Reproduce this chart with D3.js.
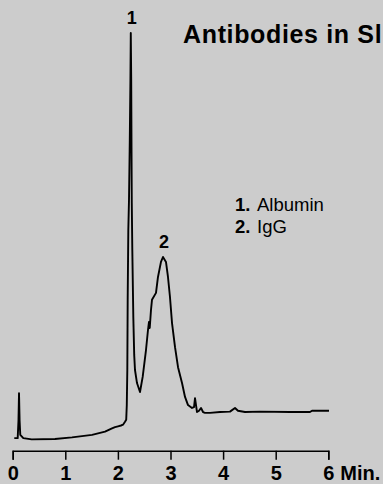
<!DOCTYPE html>
<html lang="en">
<head>
    <meta charset="UTF-8">
    <title>Antibodies chromatogram</title>
    <script src="https://d3js.org/d3.v7.min.js"></script>
    <style>
        body {
            margin: 0;
            background: #cccccc;
            font-family: Arial, "Liberation Sans", sans-serif;
        }
        svg {
            display: block;
            background: #cccccc;
        }
        .trace {
            fill: none;
            stroke: #000;
            stroke-width: 1.9;
            stroke-linejoin: round;
        }
        .axis path, .axis line {
            stroke: #000;
            stroke-width: 1.5;
        }
        .axis text {
            font-size: 20px;
            font-weight: bold;
            fill: #000;
        }
    </style>
</head>
<body>
    <svg id="chart" width="383" height="484"></svg>
    <script>
        // Retention time (min) and detector signal (% of peak 1 height)
        const times = [
            0.030, 0.095, 0.110, 0.120, 0.131, 0.144, 0.202, 0.361, 0.804, 1.127,
            1.508, 1.755, 1.888, 1.945, 2.002, 2.059, 2.097, 2.135, 2.158,
            2.169, 2.179, 2.186, 2.198, 2.211, 2.226, 2.238, 2.245, 2.253, 2.259,
            2.264, 2.274, 2.293, 2.310, 2.325, 2.363, 2.420,
            2.471, 2.534, 2.572, 2.591, 2.605, 2.629, 2.648, 2.724, 2.762, 2.819,
            2.857, 2.914, 2.952, 2.990, 3.029, 3.086, 3.143, 3.219, 3.276, 3.333,
            3.409, 3.447, 3.466, 3.485, 3.504, 3.542, 3.580, 3.618, 3.656, 3.751,
            3.941, 4.131, 4.226, 4.283, 4.416, 4.701, 5.272, 5.652, 5.690, 6.013
        ];
        const signal = [
            0.7, 0.7, 5.1, 11.7, 5.1, 1.5, 0.7, 0.4, 0.5, 0.9,
            1.5, 2.3, 3.1, 3.4, 3.6, 3.8, 4.0, 4.7, 5.2,
            8.8, 17.4, 34.6, 51.7, 59.1, 73.8, 88.5, 100, 88.5, 71.3,
            58.3, 46.8, 30.4, 21.1, 17.4, 14.2, 12.0,
            15.7, 22.3, 27.2, 29.2, 27.7, 32.1, 34.6, 36.3, 40.2, 43.9,
            45.1, 43.9, 40.2, 35.3, 28.9, 23.0, 18.1, 14.2, 10.8, 8.8,
            8.1, 8.3, 10.5, 8.8, 7.1, 7.4, 8.1, 7.1, 6.9, 6.9,
            7.1, 7.2, 8.1, 7.4, 7.1, 7.2, 7.1, 7.1, 7.4, 7.4
        ];

        const peakNumbers = ["1", "2"];
        const peakTimes = [2.245, 2.857];
        const peakHeights = [100, 45.1];
        const compounds = ["Albumin", "IgG"];
        const tickValues = [0, 1, 2, 3, 4, 5, 6];
        const title = "Antibodies in Sl";

        const svg = d3.select("#chart");

        // Scales
        const x = d3.scaleLinear().domain([0, 6]).range([12.7, 328.3]);
        const y = d3.scaleLinear().domain([0, 100]).range([441, 33]);

        const points = times.map((t, i) => [t, signal[i]]);

        // Chromatogram trace
        svg.append("path")
            .datum(points)
            .attr("class", "trace")
            .attr("d", d3.line().x(d => x(d[0])).y(d => y(d[1])));

        // Time axis
        const axis = svg.append("g")
            .attr("class", "axis")
            .attr("transform", "translate(0,450.7)")
            .call(d3.axisBottom(x)
                .tickValues(tickValues)
                .tickFormat(d3.format("d"))
                .tickSize(9)
                .tickPadding(6));
        axis.select(".domain").attr("fill", "none");

        axis.append("text")
            .attr("x", x(6) + 12)
            .attr("y", 15)
            .attr("dy", "0.71em")
            .attr("text-anchor", "start")
            .text("Min.");

        // Peak numbers
        svg.selectAll(".peak-label")
            .data(peakNumbers)
            .join("text")
            .attr("class", "peak-label")
            .attr("x", (d, i) => x(peakTimes[i]) + 1)
            .attr("y", (d, i) => y(peakHeights[i]) - 9)
            .attr("text-anchor", "middle")
            .attr("font-size", 18)
            .attr("font-weight", "bold")
            .text(d => d);

        // Title (runs to the right edge in the original)
        svg.append("text")
            .attr("x", 183)
            .attr("y", 43)
            .attr("font-size", 25)
            .attr("font-weight", "bold")
            .attr("letter-spacing", 0.65)
            .text(title);

        // Legend
        const legend = svg.append("g").attr("transform", "translate(235,211)");
        compounds.forEach((name, i) => {
            legend.append("text")
                .attr("x", 0)
                .attr("y", i * 22)
                .attr("font-size", 18.5)
                .attr("font-weight", "bold")
                .text(peakNumbers[i] + ".");
            legend.append("text")
                .attr("x", 22)
                .attr("y", i * 22)
                .attr("font-size", 18.5)
                .text(name);
        });
    </script>
</body>
</html>
